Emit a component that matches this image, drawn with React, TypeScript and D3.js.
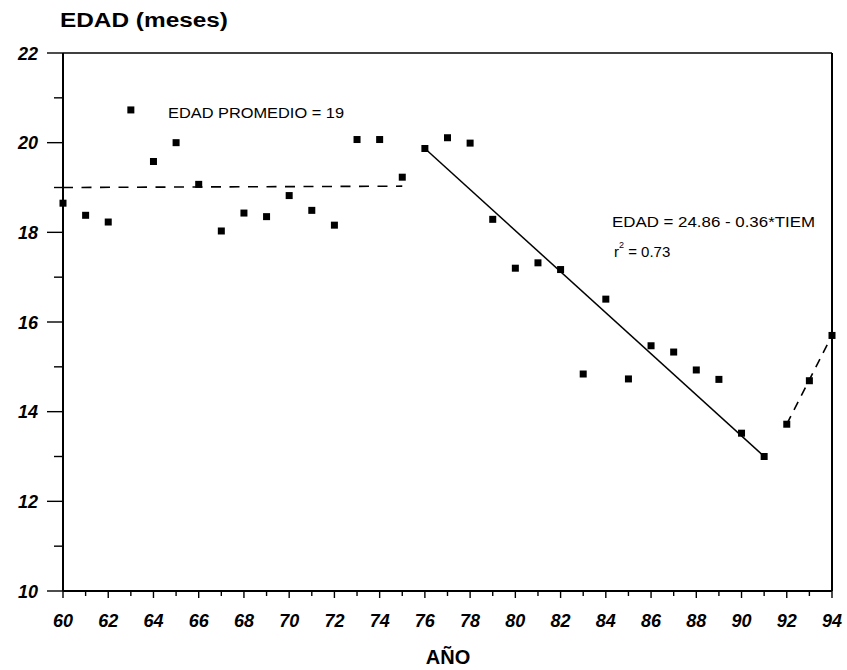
import React from "react";
import * as d3 from "d3";

const years = [60,61,62,63,64,65,66,67,68,69,70,71,72,73,74,75,76,77,78,79,80,81,82,83,84,85,86,87,88,89,90,91,92,93,94];
const edad = [18.65,18.38,18.23,20.73,19.58,20.0,19.07,18.03,18.43,18.35,18.82,18.49,18.16,20.07,20.07,19.23,19.87,20.11,19.99,18.29,17.2,17.32,17.17,14.84,16.51,14.73,15.47,15.33,14.93,14.72,13.52,13.0,13.72,14.69,15.7];
const meanLine: [number, number][] = [[60, 19], [75, 19.03]];
const regLine: [number, number][] = [[76, 19.87], [91, 13.0]];
const recentLine: [number, number][] = [[92, 13.72], [94, 15.7]];
const yTicks = [10, 12, 14, 16, 18, 20, 22];
const yMinor = [11, 13, 15, 17, 19, 21];
const xTickLabels = [60,62,64,66,68,70,72,74,76,78,80,82,84,86,88,90,92,94];

export default function App() {
  const W = 847, H = 670;
  const x = d3.scaleLinear().domain([60, 94]).range([63, 832]);
  const y = d3.scaleLinear().domain([10, 22]).range([591, 53]);
  const line = d3.line<[number, number]>().x(d => x(d[0])).y(d => y(d[1]));
  const allYears = d3.range(60, 95);
  const font = "'Liberation Sans', Arial, Helvetica, sans-serif";
  return (
    <svg width={W} height={H} style={{ position: "absolute", left: 0, top: 0, background: "#fff" }}>
      <rect x={0} y={0} width={W} height={H} fill="#fff" />
      <text x={60} y={27} fontFamily={font} fontWeight="bold" fontSize={20} textLength={168} lengthAdjust="spacingAndGlyphs">EDAD (meses)</text>
      {/* frame */}
      <line x1={x(60)} x2={x(94)} y1={y(22)} y2={y(22)} stroke="#000" strokeWidth={1.6} />
      <line x1={x(94)} x2={x(94)} y1={y(22)} y2={y(10)} stroke="#000" strokeWidth={2} />
      <line x1={x(60)} x2={x(60)} y1={y(22)} y2={y(10)} stroke="#000" strokeWidth={2} />
      <line x1={x(60)} x2={x(94)} y1={y(10)} y2={y(10)} stroke="#000" strokeWidth={2} />
      {/* y ticks */}
      {yTicks.map(t => (
        <g key={"y" + t}>
          <line x1={x(60) - 16} x2={x(60)} y1={y(t)} y2={y(t)} stroke="#000" strokeWidth={1.4} />
          <text x={38} y={y(t) + 6.5} textAnchor="end" fontFamily={font} fontWeight="bold" fontStyle="italic" fontSize={18}>{t}</text>
        </g>
      ))}
      {yMinor.map(t => (
        <line key={"ym" + t} x1={x(60) - 9} x2={x(60)} y1={y(t)} y2={y(t)} stroke="#000" strokeWidth={1.4} />
      ))}
      {/* x ticks */}
      {allYears.map(v => (
        <line key={"x" + v} x1={x(v)} x2={x(v)} y1={y(10)} y2={y(10) + (v % 2 === 0 ? 7 : 5)} stroke="#000" strokeWidth={1.4} />
      ))}
      {xTickLabels.map(v => (
        <text key={"xl" + v} x={x(v)} y={627} textAnchor="middle" fontFamily={font} fontWeight="bold" fontStyle="italic" fontSize={18}>{v}</text>
      ))}
      <text x={448} y={664} textAnchor="middle" fontFamily={font} fontWeight="bold" fontSize={20}>AÑO</text>
      {/* lines */}
      <path d={line(meanLine) || ""} fill="none" stroke="#000" strokeWidth={1.6} strokeDasharray="10,8.5" />
      <path d={line(regLine) || ""} fill="none" stroke="#000" strokeWidth={1.5} />
      <path d={line(recentLine) || ""} fill="none" stroke="#000" strokeWidth={1.6} strokeDasharray="9,7" />
      {/* points */}
      {years.map((v, i) => (
        <rect key={"p" + v} x={x(v) - 3.5} y={y(edad[i]) - 3.5} width={7} height={7} fill="#000" />
      ))}
      {/* annotations */}
      <text x={168} y={118} fontFamily={font} fontSize={15.5} textLength={176} lengthAdjust="spacingAndGlyphs">EDAD PROMEDIO = 19</text>
      <text x={612} y={227} fontFamily={font} fontSize={14} textLength={203} lengthAdjust="spacingAndGlyphs">EDAD = 24.86 - 0.36*TIEM</text>
      <text x={614} y={257} fontFamily={font} fontSize={15}>
        r<tspan dy={-9} fontSize={9}>2</tspan><tspan dy={9}> = 0.73</tspan>
      </text>
    </svg>
  );
}
